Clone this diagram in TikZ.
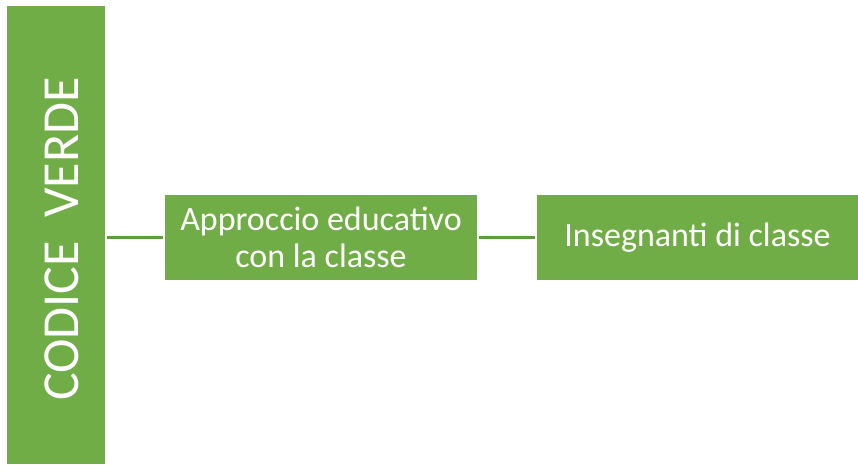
\documentclass[tikz,border=0pt]{standalone}
\usepackage{fontspec}
\setmainfont{Carlito}
\usepackage{tikz}
\usetikzlibrary{positioning}

\definecolor{verde}{HTML}{70AD47}
\definecolor{verdescuro}{HTML}{5E9D3A}

\tikzset{
	greenbox/.style={rectangle, fill=verde, text=white, inner sep=0pt, align=center},
	link/.style={draw=verdescuro, line width=2.5pt, shorten <=2pt, shorten >=2pt}
}

\begin{document}
\begin{tikzpicture}[x=1pt,y=1pt]
	\useasboundingbox (0,0) rectangle (858,464);
	
	%vertical bar
	\node[greenbox, minimum width=98pt, minimum height=458pt] (barra) at (56,229) {};
	\node[text=white, inner sep=0pt, rotate=90,
		font=\fontsize{52}{60}\selectfont] (codice) at (62,225) {CODICE\ \ VERDE};
	
	%boxes
	\node[greenbox, minimum width=312pt, minimum height=85pt,
		font=\fontsize{34}{37}\selectfont] (approccio) at (321,226.5) {Approccio educativo\\con la classe};
	\node[greenbox, minimum width=321pt, minimum height=85pt,
		font=\fontsize{34}{37}\selectfont] (insegnanti) at (697.5,226.5) {Insegnanti di classe};
	
	%connectors
	\draw[link] (barra.east |- approccio.west) -- (approccio.west);
	\draw[link] (approccio.east) -- (insegnanti.west);
\end{tikzpicture}
\end{document}
